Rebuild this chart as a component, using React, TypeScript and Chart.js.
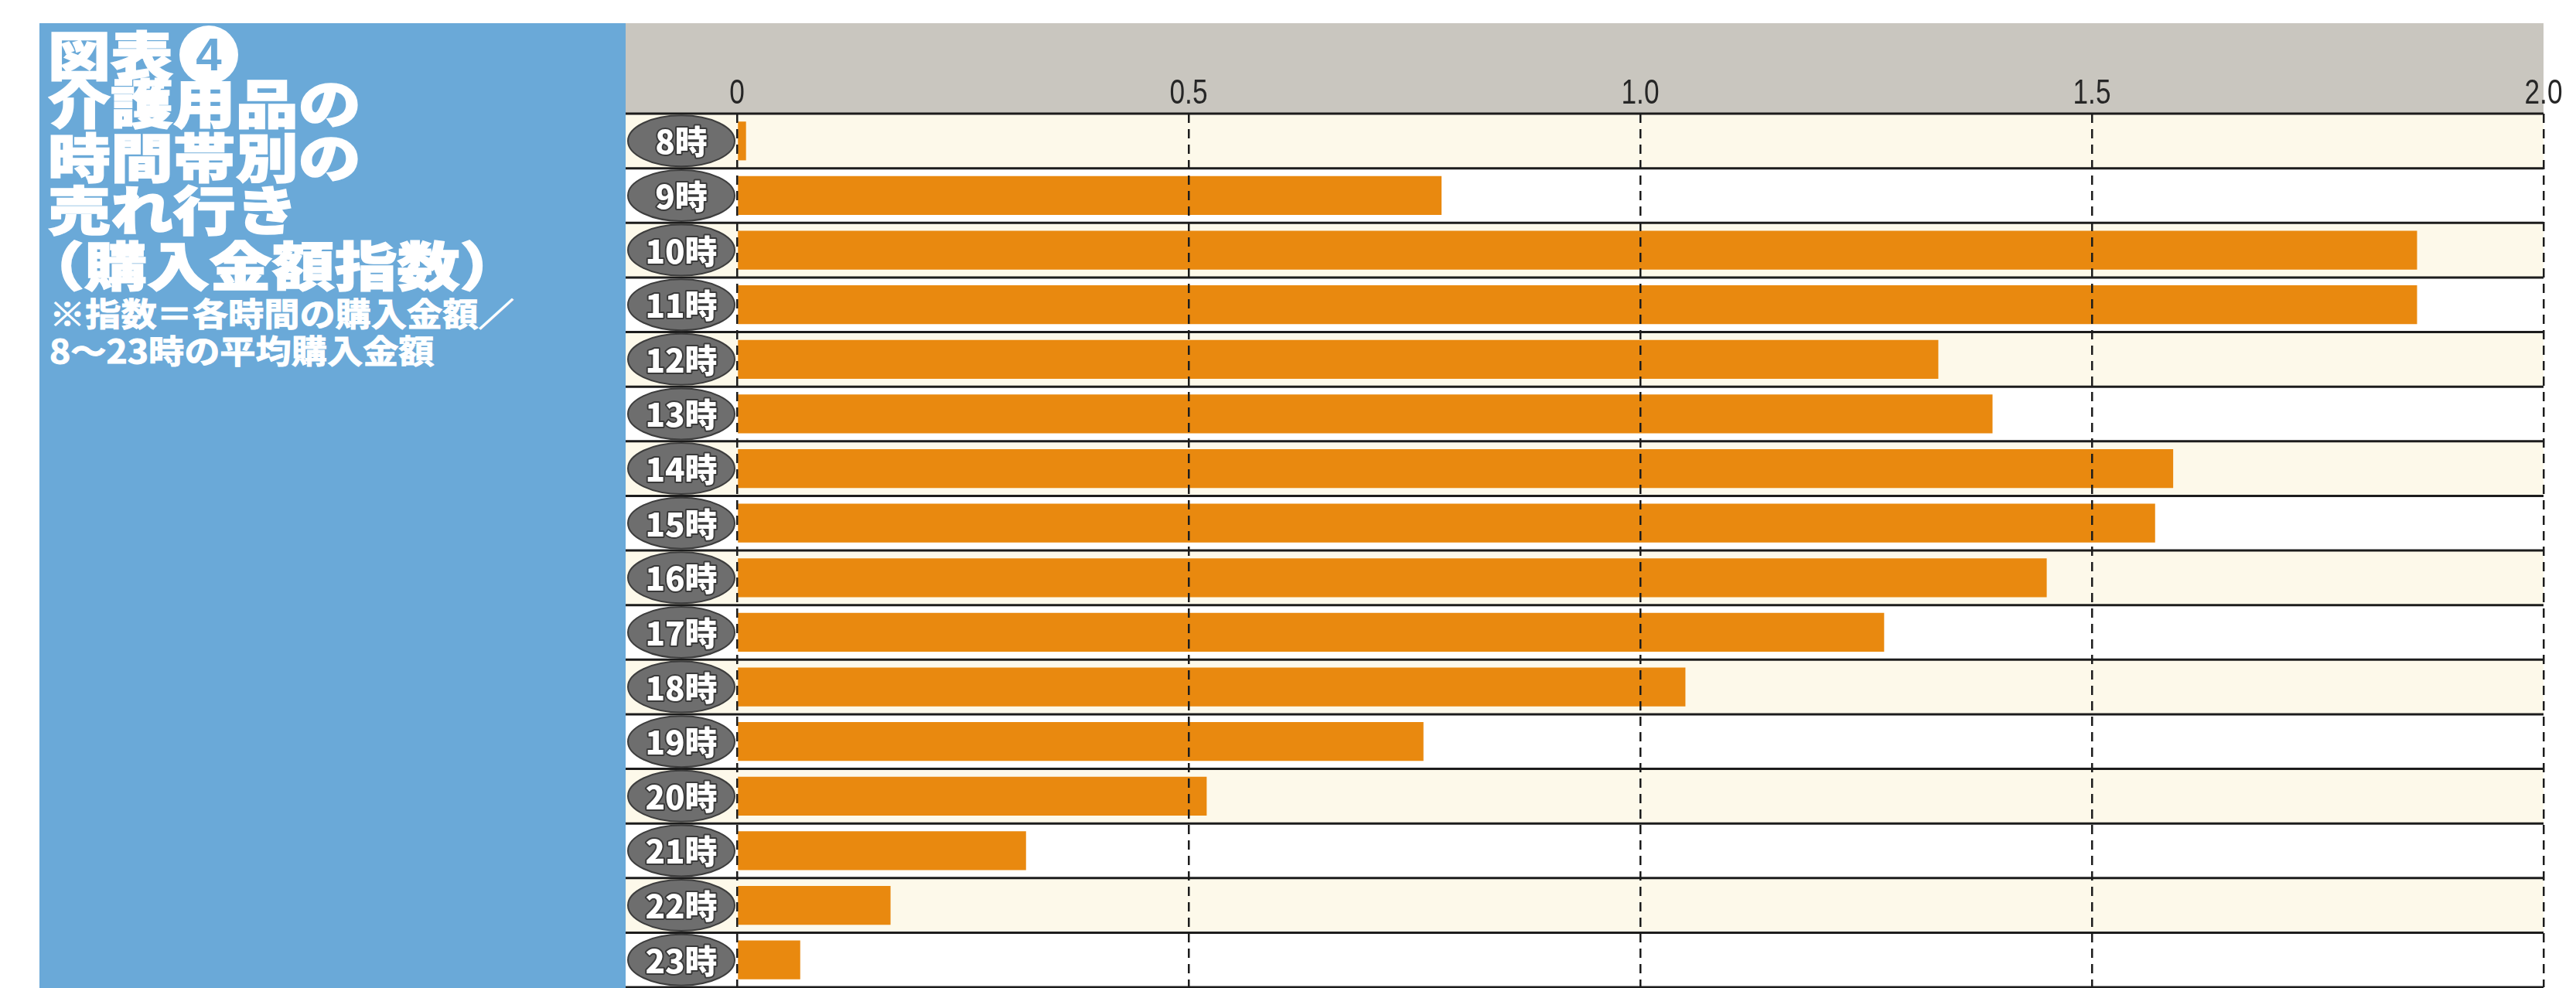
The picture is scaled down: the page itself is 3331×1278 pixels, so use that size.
import React, { useEffect, useRef } from 'react';
import { Chart, registerables } from 'chart.js';

Chart.register(...registerables);

const categories = ['8時', '9時', '10時', '11時', '12時', '13時', '14時', '15時', '16時', '17時', '18時', '19時', '20時', '21時', '22時', '23時'];
const values = [0.01, 0.78, 1.86, 1.86, 1.33, 1.39, 1.59, 1.57, 1.45, 1.27, 1.05, 0.76, 0.52, 0.32, 0.17, 0.07];
const tickLabels = ['0', '0.5', '1.0', '1.5', '2.0'];
const figureLabel = '図表';
const figureNumber = '4';
const titleLines = ['介護用品の', '時間帯別の', '売れ行き'];
const titleParen = '購入金額指数';
const noteLines = ['※指数＝各時間の購入金額／', '8〜23時の平均購入金額'];

const BLUE = '#6aa9d8';
const BAR = '#e9890f';
const GRAY_BAND = '#c9c6bf';
const CREAM = '#fdf9ea';
const LINE = '#1c1c1c';
const JP = '"Noto Sans CJK JP", "Noto Sans", sans-serif';

const backgroundPlugin = {
  id: 'rowBackgrounds',
  beforeDraw(chart: any) {
    const { ctx, chartArea, scales } = chart;
    const y = scales.y;
    const n = categories.length;
    const half = n > 1 ? (y.getPixelForValue(1) - y.getPixelForValue(0)) / 2 : 30;
    ctx.save();
    ctx.fillStyle = GRAY_BAND;
    ctx.fillRect(0, 0, chartArea.right, chartArea.top);
    for (let i = 0; i < n; i++) {
      const c = y.getPixelForValue(i);
      ctx.fillStyle = i % 2 === 0 ? CREAM : '#ffffff';
      ctx.fillRect(0, c - half, chartArea.right, half * 2);
    }
    ctx.strokeStyle = LINE;
    ctx.lineWidth = 3;
    for (let i = 0; i <= n; i++) {
      const yy = i < n ? y.getPixelForValue(i) - half : y.getPixelForValue(n - 1) + half;
      ctx.beginPath();
      ctx.moveTo(0, yy);
      ctx.lineTo(chartArea.right, yy);
      ctx.stroke();
    }
    ctx.restore();
  },
};

const overlayPlugin = {
  id: 'overlayLabels',
  afterDraw(chart: any) {
    const { ctx, chartArea, scales } = chart;
    const y = scales.y;
    const x = scales.x;
    const cx = chartArea.left - 72;
    ctx.save();
    ctx.fillStyle = '#262626';
    ctx.font = `44px "Liberation Sans", Arial, sans-serif`;
    ctx.textAlign = 'center';
    ctx.textBaseline = 'alphabetic';
    x.ticks.forEach((t: any, i: number) => {
      const px = x.getPixelForValue(t.value);
      ctx.save();
      ctx.translate(px, chartArea.top - 13);
      ctx.scale(0.8, 1);
      ctx.fillText(tickLabels[i] ?? String(t.value), 0, 0);
      ctx.restore();
    });
    categories.forEach((lab, i) => {
      const cy = y.getPixelForValue(i);
      ctx.beginPath();
      ctx.ellipse(cx, cy, 69, 33, 0, 0, Math.PI * 2);
      ctx.fillStyle = '#6e6e6e';
      ctx.fill();
      ctx.lineWidth = 2;
      ctx.strokeStyle = '#3d3d3d';
      ctx.stroke();
      ctx.font = `900 42px ${JP}`;
      ctx.textAlign = 'center';
      ctx.textBaseline = 'middle';
      ctx.lineWidth = 4;
      ctx.strokeStyle = '#3a3a3a';
      ctx.lineJoin = 'round';
      ctx.strokeText(lab, cx, cy + 1);
      ctx.fillStyle = '#ffffff';
      ctx.fillText(lab, cx, cy + 1);
    });
    ctx.restore();
  },
};

function BarChart() {
  const ref = useRef<HTMLCanvasElement | null>(null);
  useEffect(() => {
    if (!ref.current) return;
    const chart = new Chart(ref.current, {
      type: 'bar',
      data: {
        labels: categories,
        datasets: [
          {
            data: values,
            backgroundColor: BAR,
            borderWidth: 0,
            barPercentage: 0.71,
            categoryPercentage: 1,
          },
        ],
      },
      options: {
        indexAxis: 'y',
        animation: false,
        responsive: true,
        maintainAspectRatio: false,
        layout: { padding: { left: 0, right: 42, top: 0, bottom: 1 } },
        plugins: { legend: { display: false }, tooltip: { enabled: false } },
        scales: {
          x: {
            position: 'top',
            min: 0,
            max: 2,
            ticks: { stepSize: 0.5, display: false },
            grid: { color: LINE, lineWidth: 2.5, drawTicks: false, tickLength: 0, z: 1 },
            border: { display: false, dash: [12, 8] },
            afterFit: (s: any) => {
              s.height = 117;
            },
          },
          y: {
            ticks: { display: false },
            grid: { display: false },
            border: { display: false },
            afterFit: (s: any) => {
              s.width = 144;
            },
          },
        },
      } as any,
      plugins: [backgroundPlugin, overlayPlugin],
    });
    return () => chart.destroy();
  }, []);
  return <canvas ref={ref} />;
}

const bigLine = (top: number): React.CSSProperties => ({
  position: 'absolute',
  left: 62,
  top,
  fontFamily: JP,
  fontWeight: 900,
  fontSize: 68,
  lineHeight: '68px',
  color: '#ffffff',
  WebkitTextStroke: '1.5px #ffffff',
  whiteSpace: 'nowrap',
  transform: 'scaleX(1.19)',
  transformOrigin: 'left top',
});

const smallLine = (top: number): React.CSSProperties => ({
  position: 'absolute',
  left: 64,
  top,
  fontFamily: JP,
  fontWeight: 700,
  fontSize: 42,
  lineHeight: '42px',
  color: '#ffffff',
  WebkitTextStroke: '1px #ffffff',
  whiteSpace: 'nowrap',
  transform: 'scaleX(1.1)',
  transformOrigin: 'left top',
});

const titleTops = [97, 167, 235];

export default function App() {
  useEffect(() => {
    document.body.style.margin = '0';
  }, []);
  return (
    <div style={{ position: 'absolute', left: 0, top: 0, width: 3331, height: 1278, overflow: 'hidden', background: '#ffffff' }}>
      <div style={{ position: 'absolute', left: 51, top: 30, width: 758, height: 1248, background: BLUE }} />
      <div style={bigLine(35)}>{figureLabel}</div>
      <div
        style={{
          position: 'absolute',
          left: 232,
          top: 33,
          width: 76,
          height: 76,
          borderRadius: '50%',
          background: '#ffffff',
          color: BLUE,
          fontFamily: '"Liberation Sans", Arial, sans-serif',
          fontWeight: 700,
          fontSize: 60,
          lineHeight: '76px',
          textAlign: 'center',
        }}
      >
        {figureNumber}
      </div>
      {titleLines.map((t, i) => (
        <div key={t} style={bigLine(titleTops[i])}>
          {t}
        </div>
      ))}
      <div style={bigLine(307)}>
        <span style={{ marginLeft: '-0.42em' }}>（</span>
        {titleParen}）
      </div>
      <div style={smallLine(383)}>{noteLines[0]}</div>
      <div style={smallLine(431)}>{noteLines[1]}</div>
      <div style={{ position: 'absolute', left: 809, top: 30, width: 2522, height: 1248 }}>
        <BarChart />
      </div>
    </div>
  );
}
